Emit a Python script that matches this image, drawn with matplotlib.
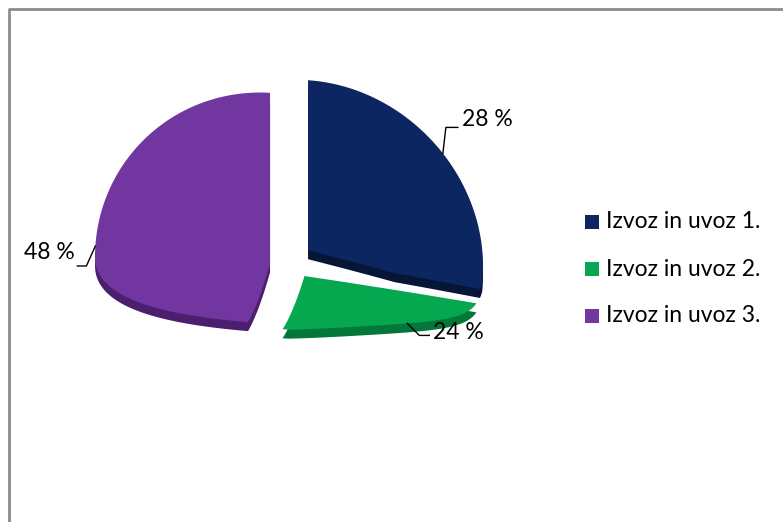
import numpy as np
import matplotlib
matplotlib.use('Agg')
import matplotlib.pyplot as plt
import matplotlib.transforms as mtransforms
from matplotlib.patches import Rectangle
from matplotlib.path import Path

plt.rcParams['font.family'] = ['Lato', 'DejaVu Sans']

# podatki
labels = ['Izvoz in uvoz 1.', 'Izvoz in uvoz 2.', 'Izvoz in uvoz 3.']
values = [28, 24, 48]
colors = ['#0C2662', '#06A84F', '#7236A0']
side_colors = ['#051638', '#03773A', '#4C1F6E']

W, H = 783, 522
# 3D pogled na tortni diagram (v pikslih, y navzdol)
CX, CY = 288, 265
RX = 175
DEPTH = 9
explode_px = [26, 28, 18]


def view(u, v):
    u = np.asarray(u, float)
    v = np.asarray(v, float)
    x = CX + RX * u
    lift = np.where(v > 0, 170 * v, 80 * v + 20 * v ** 2)
    tilt = 11 * u + 4 * u ** 2 - 14 * np.maximum(u, 0) * np.minimum(v, 0) ** 2
    yd = CY - lift + tilt
    return x, H - yd


class PieView(mtransforms.Transform):
    input_dims = 2
    output_dims = 2
    is_separable = False

    def transform_non_affine(self, xy):
        xy = np.asarray(xy, float).reshape(-1, 2)
        x, y = view(xy[:, 0], xy[:, 1])
        return np.column_stack([x, y])

    def transform_path_non_affine(self, path):
        # krivulje razgradimo na goste točke, šele nato preslikamo
        pts = []
        for seg, code in path.iter_bezier():
            if code == Path.MOVETO:
                continue
            pts.append(seg(np.linspace(0, 1, 60)))
        pts = np.concatenate(pts)
        out = self.transform_non_affine(pts)
        codes = np.full(len(out), Path.LINETO)
        codes[0] = Path.MOVETO
        return Path(out, codes)


fig = plt.figure(figsize=(W / 100, H / 100), dpi=100)
ax = fig.add_axes([0, 0, 1, 1])

explode = [e / RX for e in explode_px]
view_tr = PieView()

# stranska ploskev (senca spodaj) in zgornja ploskev
side, _ = ax.pie(values, colors=side_colors, explode=explode, startangle=90,
                 counterclock=False, radius=1, wedgeprops=dict(linewidth=0))
for w in side:
    w.set_transform(view_tr + mtransforms.Affine2D().translate(0, -DEPTH) + ax.transData)
top, _ = ax.pie(values, colors=colors, explode=explode, startangle=90,
                counterclock=False, radius=1, wedgeprops=dict(linewidth=0))
for w in top:
    w.set_transform(view_tr + ax.transData)

# oznake z vodilnimi črtami
total = sum(values)
start = 90.0
for i, v in enumerate(values):
    span = 360.0 * v / total
    mid = np.deg2rad(start - span / 2)
    start -= span
    e = explode[i]
    px, py = view((1 + e) * np.cos(mid), (1 + e) * np.sin(mid))
    px, py = float(px), float(py)
    txt = f'{v} %'
    if np.sin(mid) > 0 and np.cos(mid) > 0:
        kx, ky = px + 3, py + 26
        ax.plot([px, kx, kx + 12], [py, ky, ky], color='black', lw=1)
        ax.text(kx + 16, ky + 1, txt, ha='left', va='baseline', fontsize=16.5)
    elif np.cos(mid) > 0:
        kx, ky = px + 12, py - 12
        ax.plot([px, kx, kx + 10], [py, ky, ky], color='black', lw=1)
        ax.text(kx + 14, ky - 4, txt, ha='left', va='baseline', fontsize=16.5)
    else:
        kx, ky = px - 9, py - 20
        ax.plot([px, kx, kx - 9], [py, ky, ky], color='black', lw=1)
        ax.text(kx - 12, ky + 7, txt, ha='right', va='baseline', fontsize=16.5)

# legenda
for i, lab in enumerate(labels):
    y = H - (222 + 47 * i)
    ax.add_patch(Rectangle((585, y - 7), 14, 14, color=colors[i], lw=0))
    ax.text(606, y, lab, ha='left', va='center', fontsize=16.5)

# okvir
ax.plot([8.5, 8.5, W], [0, H - 8.5, H - 8.5], color='#8C8C8C', lw=2)

ax.set_xlim(0, W)
ax.set_ylim(0, H)
ax.set_aspect('auto')
ax.axis('off')

fig.savefig('out.png', dpi=100)
